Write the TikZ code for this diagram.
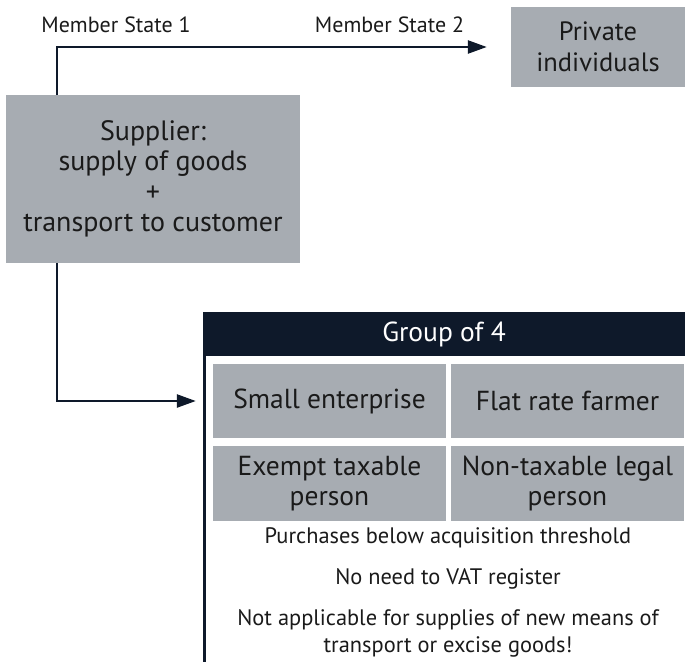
\documentclass[tikz,border=0pt]{standalone}
\usepackage{fontspec}
\setmainfont{PT Sans}
\usetikzlibrary{arrows.meta}
\definecolor{boxgrey}{RGB}{167,172,178}
\definecolor{navy}{RGB}{14,25,42}
\definecolor{txt}{RGB}{26,26,26}
\begin{document}
\begin{tikzpicture}[x=1pt,y=-1pt,
  greybox/.style={fill=boxgrey,inner sep=0pt,align=center,text=txt},
  bigtxt/.style={font=\fontsize{28}{30.5}\selectfont},
  privtxt/.style={font=\fontsize{26.5}{31}\selectfont},
  midtxt/.style={font=\fontsize{27.5}{30}\selectfont},
  smalltxt/.style={font=\fontsize{22.4}{27}\selectfont,text=txt,align=center,inner sep=0pt},
  labeltxt/.style={font=\fontsize{22}{24}\selectfont,text=txt,inner sep=0pt},
  conn/.style={draw=navy,line width=2.5pt,-{Triangle[length=19pt,width=13pt]}}]
\useasboundingbox (0,0) rectangle (685,662);
\node[greybox,bigtxt,minimum width=294pt,minimum height=168pt] (supplier) at (153,179)
  {Supplier:\\supply of goods\\+\\transport to customer};
\node[greybox,privtxt,minimum width=174pt,minimum height=80pt] (private) at (598,47)
  {Private\\individuals};
\node[labeltxt] (ms1) at (116,25) {Member State 1};
\node[labeltxt] (ms2) at (389.5,25) {Member State 2};
\node[fill=navy,text=white,inner sep=0pt,minimum width=482pt,minimum height=44pt,font=\fontsize{27.5}{30}\selectfont] (group) at (444,334) {Group of 4};
\node[greybox,midtxt,minimum width=233pt,minimum height=74pt] (b1) at (329.5,401) {Small enterprise};
\node[greybox,midtxt,minimum width=233pt,minimum height=74pt] (b2) at (567.5,401) {Flat rate farmer};
\node[greybox,midtxt,minimum width=233pt,minimum height=75pt] (b3) at (329.5,483.5) {Exempt taxable\\person};
\node[greybox,midtxt,minimum width=233pt,minimum height=75pt] (b4) at (567.5,483.5) {Non-taxable legal\\person};
\node[smalltxt] (t1) at (448,538) {Purchases below acquisition threshold};
\node[smalltxt] (t2) at (448,579) {No need to VAT register};
\node[smalltxt] (t3) at (448,633) {Not applicable for supplies of new means of\\transport or excise goods!};
\coordinate (vx) at (57,0);
\coordinate (fbot) at (204.5,662);
\draw[navy,line width=2.5pt] (group.south west -| fbot) -- (fbot);
\draw[conn,shorten >=24pt] (supplier.north -| vx) |- (private.west);
\draw[conn,shorten >=17pt] (supplier.south -| vx) |- (b1.west);
\end{tikzpicture}
\end{document}
